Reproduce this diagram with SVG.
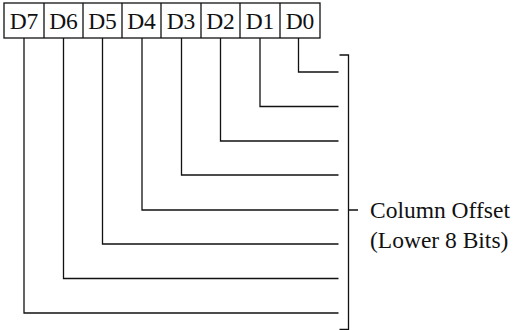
<svg xmlns="http://www.w3.org/2000/svg" width="517" height="330" viewBox="0 0 517 330">
<style>
.ln{fill:none;stroke:#111;stroke-width:1.3}
.t{font-family:'Liberation Serif','Times New Roman',Times,'DejaVu Serif',serif;font-size:23.5px;fill:#111}
.c{text-anchor:middle}
</style>
<rect width="517" height="330" fill="#fff"/>
<g id="register">
<rect class="ln" x="4" y="3" width="316" height="35"/>
<path class="ln" d="M44,3V38M83,3V38M122,3V38M161,3V38M201,3V38M240,3V38M280,3V38"/>
<text class="t c" x="24" y="29">D7</text>
<text class="t c" x="63.5" y="29">D6</text>
<text class="t c" x="102.5" y="29">D5</text>
<text class="t c" x="141.5" y="29">D4</text>
<text class="t c" x="181" y="29">D3</text>
<text class="t c" x="220.5" y="29">D2</text>
<text class="t c" x="260" y="29">D1</text>
<text class="t c" x="300" y="29">D0</text>
</g>
<g id="connectors">
<path class="ln" d="M298.5,38V72H338.5"/>
<path class="ln" d="M260,38V106.5H338.5"/>
<path class="ln" d="M220.5,38V141H338.5"/>
<path class="ln" d="M181.5,38V175H338.5"/>
<path class="ln" d="M142,38V210H338.5"/>
<path class="ln" d="M102.5,38V244H338.5"/>
<path class="ln" d="M63.5,38V278.5H338.5"/>
<path class="ln" d="M24,38V313H338.5"/>
</g>
<g id="bracket">
<path class="ln" d="M339.5,55H348.5V329.5H339.5M348.5,210H358"/>
</g>
<g id="label">
<text class="t" x="370" y="218">Column Offset</text>
<text class="t" x="370" y="248">(Lower 8 Bits)</text>
</g>
</svg>
